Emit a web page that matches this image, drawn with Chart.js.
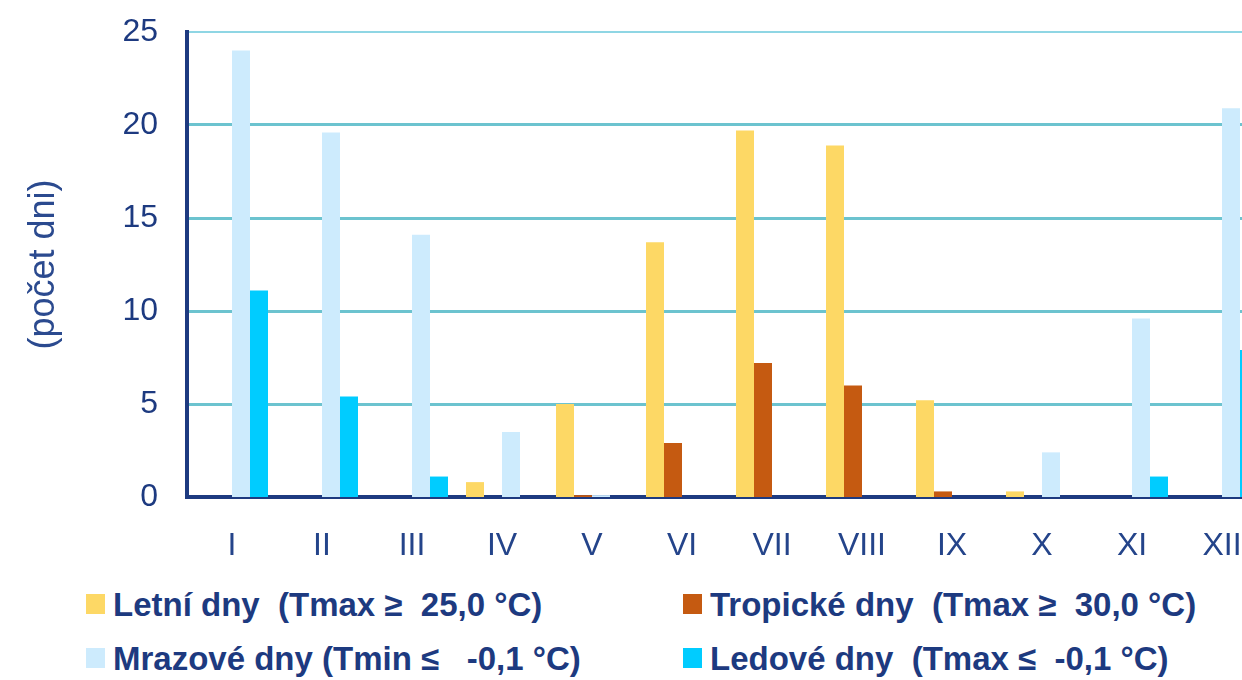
<!DOCTYPE html>
<html lang="cs">
<head>
<meta charset="utf-8">
<script src="https://cdn.jsdelivr.net/npm/chart.js@4/dist/chart.umd.min.js"></script>
<style>
    body { margin: 0; width: 1242px; height: 680px; overflow: hidden; background: #fff; position: relative; }
    #wrap { position: absolute; left: 0; top: 0; width: 1290px; height: 560px; }
    .item { position: absolute; white-space: pre; font: bold 33px "Liberation Sans", Arial, sans-serif; color: #1d3a80; line-height: 33px; }
    .box { position: absolute; width: 19px; height: 20px; }
</style>
</head>
<body>
<div id="wrap"><canvas id="chart"></canvas></div>
<div id="legend"></div>
<script>
const months = ["I", "II", "III", "IV", "V", "VI", "VII", "VIII", "IX", "X", "XI", "XII"];
const yTicks = [0, 5, 10, 15, 20, 25];

const letniDny = [0, 0, 0, 0.8, 5.0, 13.7, 19.7, 18.9, 5.2, 0.3, 0, 0];
const tropickeDny = [0, 0, 0, 0, 0.1, 2.9, 7.2, 6.0, 0.3, 0, 0, 0];
const mrazoveDny = [24.0, 19.6, 14.1, 3.5, 0.1, 0, 0, 0, 0, 2.4, 9.6, 20.9];
const ledoveDny = [11.1, 5.4, 1.1, 0, 0, 0, 0, 0, 0, 0, 1.1, 7.9];

const seriesLabels = [
    "Letní dny  (Tmax \u2265  25,0 \u00b0C)",
    "Tropické dny  (Tmax \u2265  30,0 \u00b0C)",
    "Mrazové dny (Tmin \u2264   -0,1 \u00b0C)",
    "Ledové dny  (Tmax \u2264  -0,1 \u00b0C)"
];
const seriesColors = ["#fdd865", "#c55a11", "#cdebfd", "#00ccff"];

const navy = "#1d3a80";

let buildData = () => {
    const values = [letniDny, tropickeDny, mrazoveDny, ledoveDny];
    return {
        labels: months,
        datasets: values.map((v, i) => ({
            label: seriesLabels[i],
            data: v,
            backgroundColor: seriesColors[i],
            borderWidth: 0,
            categoryPercentage: 0.8,
            barPercentage: 1.0
        }))
    };
};

let initChart = (chartData, ctx) => {
    const chartOptions = {
        responsive: true,
        maintainAspectRatio: false,
        animation: false,
        layout: {
            padding: { top: 32, right: 23, left: 0, bottom: 0 }
        },
        plugins: {
            legend: { display: false },
            tooltip: { enabled: false }
        },
        scales: {
            x: {
                grid: { display: false, drawTicks: false },
                border: { color: navy, width: 4 },
                ticks: {
                    color: "#24448a",
                    padding: 30,
                    font: { family: "'Liberation Sans', Arial", size: 32 }
                },
                afterFit: s => { s.height = 63; s.paddingLeft = 0; s.paddingRight = 0; }
            },
            y: {
                min: 0,
                max: 25,
                afterBuildTicks: s => { s.ticks = yTicks.map(v => ({ value: v })); },
                grid: {
                    drawTicks: false,
                    color: c => c.tick && c.tick.value === 25 ? "#8fd6e4" : "#6cc3cf",
                    lineWidth: c => c.tick && c.tick.value === 0 ? 0 : (c.tick && c.tick.value === 25 ? 2 : 3)
                },
                border: { color: navy, width: 4 },
                ticks: {
                    color: navy,
                    padding: 29,
                    font: { family: "'Liberation Sans', Arial", size: 32 }
                },
                title: {
                    display: true,
                    text: "(počet dni)",
                    color: "#2b4a8f",
                    padding: { top: 22, bottom: 0 },
                    font: { family: "'Liberation Sans', Arial", size: 36 }
                },
                afterFit: s => { s.width = 187; s.paddingTop = 0; s.paddingBottom = 0; }
            }
        }
    };

    new Chart(ctx, { type: "bar", data: chartData, options: chartOptions });
};

let buildLegend = chartData => {
    const pos = [[86, 594], [683, 594], [86, 648], [683, 648]];
    const legend = document.getElementById("legend");
    chartData.datasets.forEach((ds, i) => {
        const box = document.createElement("div");
        box.className = "box";
        box.style.left = pos[i][0] + "px";
        box.style.top = pos[i][1] + "px";
        box.style.background = ds.backgroundColor;
        legend.appendChild(box);

        const item = document.createElement("div");
        item.className = "item";
        item.style.left = (pos[i][0] + 27) + "px";
        item.style.top = (pos[i][1] - 6) + "px";
        item.textContent = ds.label;
        legend.appendChild(item);
    });
};

const chartData = buildData();
initChart(chartData, document.getElementById("chart"));
buildLegend(chartData);
</script>
</body>
</html>
